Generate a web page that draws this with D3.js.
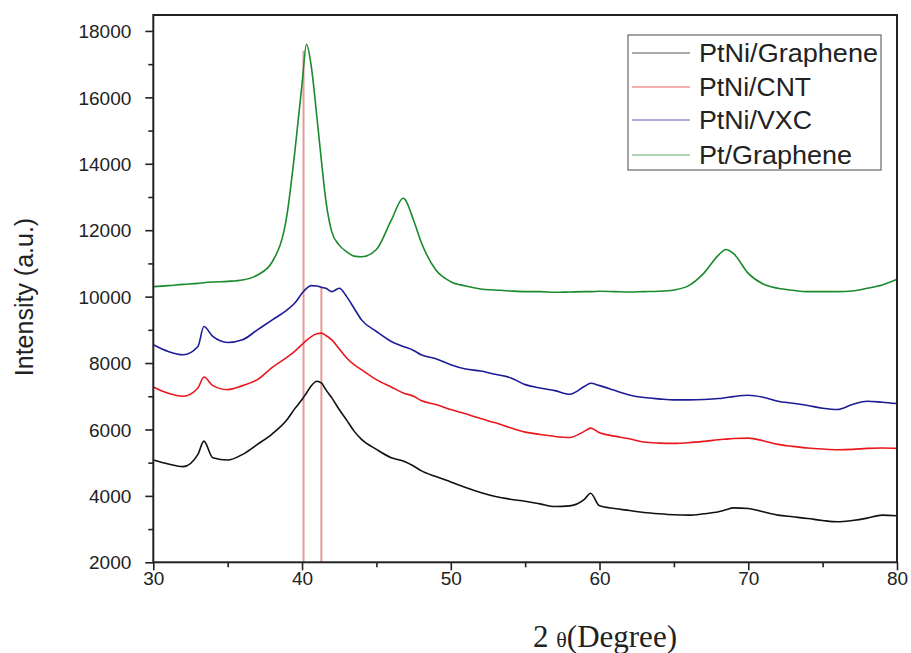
<!DOCTYPE html>
<html>
<head>
<meta charset="utf-8">
<script src="https://cdn.jsdelivr.net/npm/d3@7"></script>
<style>
  html, body { margin: 0; padding: 0; background: #fff; }
  svg { display: block; }
</style>
</head>
<body>
<script>
// ---------- DATA ----------
const seriesNames = ["PtNi/Graphene", "PtNi/CNT", "PtNi/VXC", "Pt/Graphene"];
const seriesColors = ["#111111", "#e8181e", "#1c1c96", "#1a8a2c"];

const twoTheta = [30,31,32,33,33.4,34,35,36,37,38,39,39.5,40,40.3,40.6,41,41.3,41.6,42,42.5,43,43.5,44,45,46,46.8,47.5,48,49,50,51,52,53,54,55,56,57,58,59,59.4,60,61,62,63,64,65,66,67,68,68.5,69,70,71,72,73,74,75,76,77,78,79,80];

const ptniGraphene = [5080,4960,4880,5250,5650,5150,5080,5250,5550,5870,6300,6620,6900,7100,7300,7450,7400,7200,6950,6600,6280,5950,5700,5400,5150,5050,4900,4760,4580,4420,4250,4100,3980,3900,3840,3760,3680,3700,3900,4080,3700,3620,3560,3500,3460,3430,3420,3460,3520,3580,3640,3620,3520,3420,3370,3320,3260,3220,3260,3330,3420,3400];

const ptniCNT = [7280,7090,7000,7250,7580,7320,7200,7320,7500,7870,8180,8350,8560,8680,8790,8880,8900,8830,8700,8430,8150,7950,7800,7500,7280,7100,7000,6870,6750,6600,6470,6330,6200,6050,5920,5850,5790,5760,5950,6040,5900,5800,5720,5620,5590,5580,5600,5640,5690,5710,5730,5740,5660,5550,5490,5440,5410,5390,5400,5430,5440,5430];

const ptniVXC = [8550,8350,8250,8500,9100,8800,8620,8700,9000,9300,9600,9800,10100,10250,10330,10320,10280,10250,10150,10250,10000,9650,9300,8950,8650,8500,8380,8250,8130,7950,7820,7760,7660,7560,7350,7250,7170,7060,7300,7390,7320,7180,7040,6960,6920,6890,6890,6900,6930,6960,6990,7030,6970,6850,6790,6720,6640,6600,6750,6850,6820,6780];

const ptGraphene = [10300,10330,10370,10400,10420,10440,10460,10500,10650,11050,12500,14300,16400,17600,17000,15400,14100,12900,11950,11550,11350,11220,11200,11420,12300,12960,12300,11650,10800,10450,10320,10230,10200,10170,10150,10150,10130,10140,10150,10150,10160,10150,10140,10150,10160,10200,10330,10700,11250,11420,11300,10700,10380,10250,10190,10150,10150,10150,10170,10250,10350,10520];

const refLineTheta = [40.1, 41.3];
const refLineTop = [17400, 10300];

const xMajorTicks = [30, 40, 50, 60, 70, 80];
const xMinorTicks = [35, 45, 55, 65, 75];
const yMajorTicks = [2000, 4000, 6000, 8000, 10000, 12000, 14000, 16000, 18000];
const yMinorTicks = [3000, 5000, 7000, 9000, 11000, 13000, 15000, 17000];

// ---------- CHART ----------
const W = 911, H = 653;
const svg = d3.select("body").append("svg").attr("width", W).attr("height", H);

const x = d3.scaleLinear().domain([30, 80]).range([153.3, 897]);
const y = d3.scaleLinear().domain([2000, 18480]).range([562.3, 15]);

const allSeries = [ptniGraphene, ptniCNT, ptniVXC, ptGraphene];

// reference lines
svg.append("g").selectAll("line").data(refLineTheta).join("line")
  .attr("x1", d => x(d)).attr("x2", d => x(d))
  .attr("y1", y(2000)).attr("y2", (d, i) => y(refLineTop[i]))
  .attr("stroke", "#e59a9a").attr("stroke-width", 2);

// series
const line = d3.line().curve(d3.curveMonotoneX).x(d => x(d[0])).y(d => y(d[1]));
svg.append("g").selectAll("path").data(allSeries).join("path")
  .attr("d", s => line(s.map((v, i) => [twoTheta[i], v])))
  .attr("fill", "none")
  .attr("stroke", (d, i) => seriesColors[i])
  .attr("stroke-width", 1.6)
  .attr("stroke-linejoin", "round");

// frame
svg.append("rect")
  .attr("x", x(30)).attr("y", y(18480))
  .attr("width", x(80) - x(30)).attr("height", y(2000) - y(18480))
  .attr("fill", "none").attr("stroke", "#222").attr("stroke-width", 2);

const tickFont = "'Liberation Sans', Arial, sans-serif";

// x axis
const gx = svg.append("g").attr("transform", `translate(0,${y(2000)})`);
gx.call(d3.axisBottom(x).tickValues(xMajorTicks).tickSize(8).tickFormat(d3.format("d")));
gx.append("g").call(d3.axisBottom(x).tickValues(xMinorTicks).tickSize(5).tickFormat(""));
gx.selectAll(".domain").remove();
gx.selectAll("line").attr("stroke", "#222").attr("stroke-width", 1.6);
gx.selectAll("text").attr("y", 23).attr("dy", 0)
  .attr("font-family", tickFont).attr("font-size", 19).attr("fill", "#222");

// y axis
const gy = svg.append("g").attr("transform", `translate(${x(30)},0)`);
gy.call(d3.axisLeft(y).tickValues(yMajorTicks).tickSize(8).tickFormat(d3.format("d")));
gy.append("g").call(d3.axisLeft(y).tickValues(yMinorTicks).tickSize(5).tickFormat(""));
gy.selectAll(".domain").remove();
gy.selectAll("line").attr("stroke", "#222").attr("stroke-width", 1.6);
gy.selectAll("text").attr("x", -22).attr("dy", "0.35em")
  .attr("font-family", tickFont).attr("font-size", 19).attr("fill", "#222");

// axis titles
svg.append("text")
  .attr("transform", "translate(33,297) rotate(-90)")
  .attr("text-anchor", "middle")
  .attr("font-family", tickFont).attr("font-size", 25).attr("fill", "#222")
  .text("Intensity (a.u.)");

const xt = svg.append("text")
  .attr("x", 605).attr("y", 647)
  .attr("text-anchor", "middle")
  .attr("font-family", "'Liberation Serif', 'Times New Roman', serif")
  .attr("font-size", 31).attr("fill", "#222");
xt.append("tspan").text("2 ");
xt.append("tspan").attr("font-size", 22).text("θ");
xt.append("tspan").text("(Degree)");

// legend
const lg = svg.append("g");
lg.append("rect").attr("x", 628).attr("y", 35).attr("width", 253).attr("height", 135)
  .attr("fill", "#fff").attr("stroke", "#666").attr("stroke-width", 1.2);
const rowY = [53, 87, 120, 155];
seriesNames.forEach((name, i) => {
  lg.append("line").attr("x1", 632).attr("x2", 690).attr("y1", rowY[i]).attr("y2", rowY[i])
    .attr("stroke", seriesColors[i]).attr("stroke-width", 1.2).attr("opacity", 0.7);
  lg.append("text").attr("x", 699).attr("y", rowY[i]).attr("dy", "0.35em")
    .attr("font-family", tickFont).attr("font-size", 25).attr("fill", "#222")
    .attr("textLength", [179, 112, 113, 153][i]).attr("lengthAdjust", "spacingAndGlyphs")
    .text(name);
});
</script>
</body>
</html>
